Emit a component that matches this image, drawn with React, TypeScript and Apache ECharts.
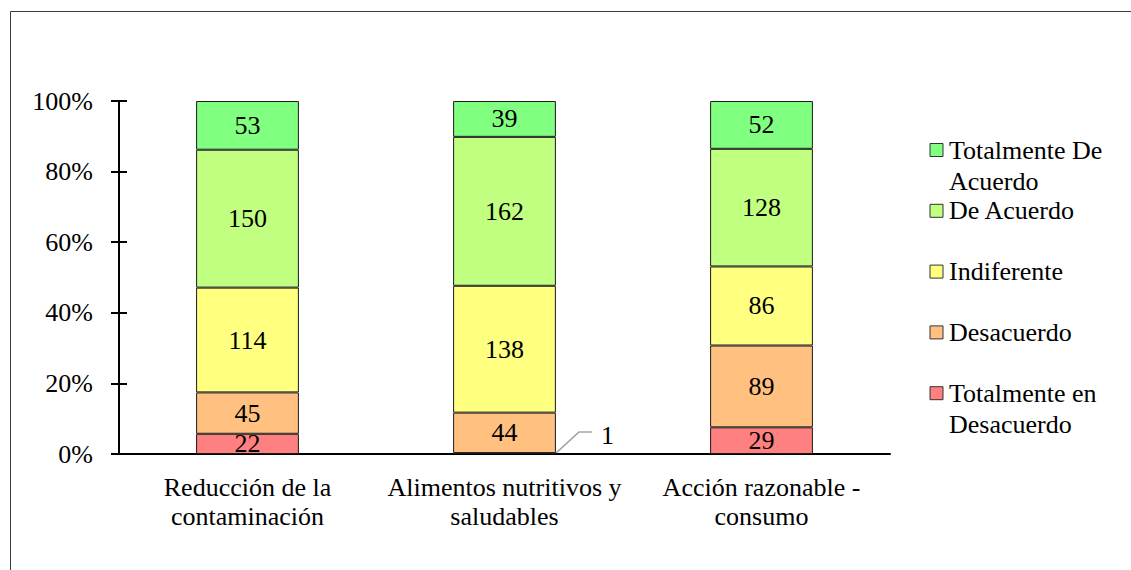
import React, { useEffect, useRef } from "react";
import * as echarts from "echarts";

// Survey responses per statement (counts), stacked to 100%
const categories = [
  "Reducción de la\ncontaminación",
  "Alimentos nutritivos y\nsaludables",
  "Acción razonable -\nconsumo",
];
const totDesacuerdo = [22, 1, 29];
const desacuerdo = [45, 44, 89];
const indiferente = [114, 138, 86];
const deAcuerdo = [150, 162, 128];
const totAcuerdo = [53, 39, 52];

const seriesNames = [
  "Totalmente en Desacuerdo",
  "Desacuerdo",
  "Indiferente",
  "De Acuerdo",
  "Totalmente De Acuerdo",
];
const legendLabels = [
  "Totalmente en\nDesacuerdo",
  "Desacuerdo",
  "Indiferente",
  "De Acuerdo",
  "Totalmente De\nAcuerdo",
];
const colors = ["#FF8080", "#FFC080", "#FFFF80", "#C0FF80", "#80FF80"];
const yTicks = [0, 20, 40, 60, 80, 100];

const FONT = '"Liberation Serif", "Times New Roman", serif';
const FS = 26;

export default function App() {
  const ref = useRef<HTMLDivElement>(null);

  useEffect(() => {
    if (!ref.current) return;
    const chart = echarts.init(ref.current, null, { renderer: "svg" });
    const groups = [totDesacuerdo, desacuerdo, indiferente, deAcuerdo, totAcuerdo];
    const totals = categories.map((_, i) => groups.reduce((s, g) => s + g[i], 0));
    const SMALL = 2; // percent below which a label is placed outside the bar

    const series = groups.map((vals, si) => ({
      name: seriesNames[si],
      type: "bar",
      stack: "total",
      barWidth: "40%",
      yAxisIndex: 0,
      itemStyle: { color: colors[si], borderColor: "#1a1a1a", borderWidth: 1 },
      data: vals.map((v, ci) => {
        const pct = (v / totals[ci]) * 100;
        const item: any = { value: pct, raw: v };
        if (pct < SMALL) {
          item.label = {
            show: true,
            position: ["100%", 0],
            align: "left",
            verticalAlign: "middle",
            offset: [45, -18],
          };
        }
        return item;
      }),
      label: {
        show: true,
        position: "inside",
        color: "#000",
        fontFamily: FONT,
        fontSize: FS,
        formatter: (p: any) => String(p.data.raw),
      },
    }));

    // Legend drawn top to bottom (reverse of stacking order)
    const legendItems: any[] = [];
    const order = [4, 3, 2, 1, 0];
    const legX = 930;
    const legY0 = 150;
    const legStep = 60.8;
    order.forEach((si, k) => {
      const cy = legY0 + k * legStep;
      legendItems.push({
        type: "rect",
        shape: { x: legX, y: cy - 6.5, width: 13, height: 13 },
        style: { fill: colors[si], stroke: "#333", lineWidth: 1 },
      });
      legendItems.push({
        type: "text",
        x: legX + 19,
        y: cy - 15.5,
        style: {
          text: legendLabels[si],
          fill: "#000",
          font: `${FS}px ${FONT}`,
          lineHeight: 31,
          textAlign: "left",
          textVerticalAlign: "top",
        },
      });
    });

    const frame = {
      type: "rect",
      shape: { x: 10.5, y: 11.5, width: 1300, height: 800 },
      style: { fill: "none", stroke: "#3a3a3a", lineWidth: 1 },
      silent: true,
    };

    chart.setOption({
      animation: false,
      grid: { left: 119, right: 241, top: 101, bottom: 116 },
      xAxis: {
        type: "category",
        data: categories,
        axisLine: { show: true, lineStyle: { color: "#000", width: 2 } },
        axisTick: { show: false },
        axisLabel: {
          color: "#000",
          fontFamily: FONT,
          fontSize: FS,
          lineHeight: 29,
          margin: 19,
          interval: 0,
        },
      },
      yAxis: [
        {
          type: "value",
          min: 0,
          max: 100,
          interval: 20,
          axisLine: { show: true, lineStyle: { color: "#000", width: 2 } },
          axisTick: { show: true, length: 8, lineStyle: { color: "#000", width: 2 } },
          splitLine: { show: false },
          axisLabel: {
            color: "#000",
            fontFamily: FONT,
            fontSize: FS,
            margin: 26,
            formatter: (v: number) => (yTicks.includes(v) ? `${v}%` : ""),
          },
        },
        {
          type: "value",
          position: "left",
          min: 0,
          max: 100,
          interval: 20,
          axisLine: { show: false },
          axisTick: { show: true, inside: true, length: 8, lineStyle: { color: "#000", width: 2 } },
          splitLine: { show: false },
          axisLabel: { show: false },
        },
      ],
      series,
      graphic: [frame, ...legendItems],
    });

    // Leader lines for labels moved outside thin segments
    const leaders: any[] = [];
    const c0 = chart.convertToPixel({ xAxisIndex: 0 }, 0) as number;
    const c1 = chart.convertToPixel({ xAxisIndex: 0 }, 1) as number;
    const band = c1 - c0;
    groups.forEach((vals, si) => {
      vals.forEach((v, ci) => {
        const pct = (v / totals[ci]) * 100;
        if (pct >= SMALL) return;
        const base = groups.slice(0, si).reduce((s, g) => s + (g[ci] / totals[ci]) * 100, 0);
        const cx = chart.convertToPixel({ xAxisIndex: 0 }, ci) as number;
        const xr = cx + band * 0.2;
        const yt = chart.convertToPixel({ yAxisIndex: 0 }, base + pct) as number;
        leaders.push({
          type: "polyline",
          shape: {
            points: [
              [xr, yt],
              [xr + 23, yt - 21],
              [xr + 36, yt - 21],
            ],
          },
          style: { fill: "none", stroke: "#A6A6A6", lineWidth: 1.5 },
          silent: true,
        });
      });
    });
    chart.setOption({ graphic: [frame, ...legendItems, ...leaders] });

    return () => chart.dispose();
  }, []);

  return (
    <div
      ref={ref}
      style={{ position: "fixed", left: 0, top: 0, width: 1131, height: 570, background: "#fff" }}
    />
  );
}
